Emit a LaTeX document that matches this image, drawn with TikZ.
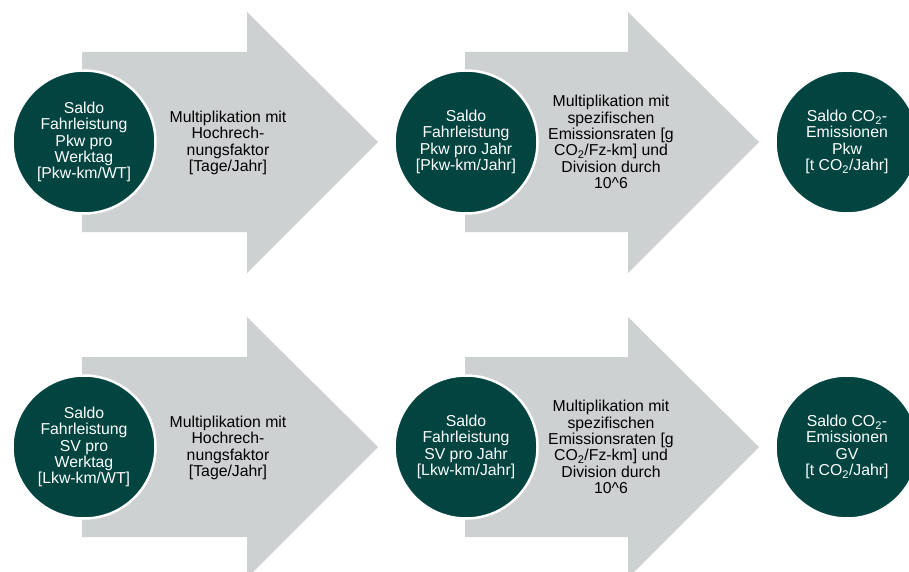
\documentclass[tikz,border=0pt]{standalone}
\usepackage{fontspec}
\setmainfont{Liberation Sans}
\definecolor{circfill}{RGB}{1,68,64}
\definecolor{arrowgray}{RGB}{206,209,210}
\tikzset{
  circ/.style={circle, minimum size=143pt, inner sep=0pt, fill=circfill, draw=white, line width=2.5pt,
    text=white, align=center, font=\fontsize{15.8}{16.3}\selectfont},
  lbl/.style={align=center, inner sep=0pt, text=black, font=\fontsize{15.8}{16.3}\selectfont},
  bigarrow/.style={fill=arrowgray}
}
\begin{document}
\begin{tikzpicture}[x=1pt,y=-1pt]
\useasboundingbox (0,0) rectangle (909,572);
\clip (0,0) rectangle (909,572);
\foreach \dy/\r in {0/a,305/b}{
  \begin{scope}[yshift=-\dy pt]
  \fill[bigarrow] (82,52) -- (247,52) -- (247,12) -- (378,142) -- (247,273) -- (247,232) -- (82,232) -- cycle;
  \fill[bigarrow] (465,52) -- (628,52) -- (628,12) -- (759,142) -- (628,273) -- (628,232) -- (465,232) -- cycle;
  \end{scope}
}
% Row 1
\node[circ] (c1) at (84,142) {Saldo\\Fahrleistung\\Pkw pro\\Werktag\\{[}Pkw-km/WT{]}};
\node[lbl] (t1) at (228,143) {Multiplikation mit\\Hochrech-\\nungsfaktor\\{[}Tage/Jahr{]}};
\node[circ] (c2) at (466,142) {Saldo\\Fahrleistung\\Pkw pro Jahr\\{[}Pkw-km/Jahr{]}};
\node[lbl] (t2) at (611,142) {Multiplikation mit\\spezifischen\\Emissionsraten {[}g\\CO\textsubscript{2}/Fz-km{]} und\\Division durch\\10\textasciicircum{}6};
\node[circ] (c3) at (847,142) {Saldo CO\textsubscript{2}-\\Emissionen\\Pkw\\{[}t CO\textsubscript{2}/Jahr{]}};
% Row 2
\node[circ] (d1) at (84,447) {Saldo\\Fahrleistung\\SV pro\\Werktag\\{[}Lkw-km/WT{]}};
\node[lbl] (u1) at (228,448) {Multiplikation mit\\Hochrech-\\nungsfaktor\\{[}Tage/Jahr{]}};
\node[circ] (d2) at (466,447) {Saldo\\Fahrleistung\\SV pro Jahr\\{[}Lkw-km/Jahr{]}};
\node[lbl] (u2) at (611,447) {Multiplikation mit\\spezifischen\\Emissionsraten {[}g\\CO\textsubscript{2}/Fz-km{]} und\\Division durch\\10\textasciicircum{}6};
\node[circ] (d3) at (847,447) {Saldo CO\textsubscript{2}-\\Emissionen\\GV\\{[}t CO\textsubscript{2}/Jahr{]}};
\end{tikzpicture}
\end{document}
